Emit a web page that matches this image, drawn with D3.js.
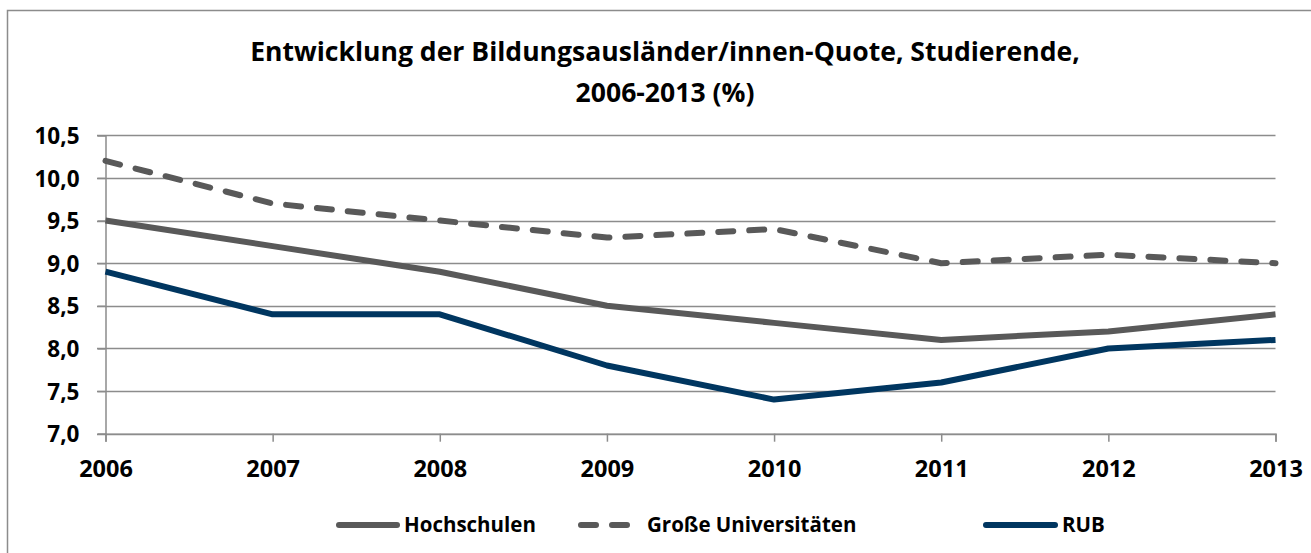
<!DOCTYPE html>
<html><head><meta charset="utf-8">
<script src="https://cdn.jsdelivr.net/npm/d3@7"></script>
<style>body{margin:0;background:#fff}svg{display:block}text{font-family:"Open Sans",Lato,sans-serif;font-weight:bold;fill:#000}</style>
</head><body><svg id="c" width="1311" height="553"></svg>
<script>
const years = [2006, 2007, 2008, 2009, 2010, 2011, 2012, 2013];
const hochschulen = [9.5, 9.2, 8.9, 8.5, 8.3, 8.1, 8.2, 8.4];
const grosseUnis = [10.2, 9.7, 9.5, 9.3, 9.4, 9.0, 9.1, 9.0];
const rub = [8.9, 8.4, 8.4, 7.8, 7.4, 7.6, 8.0, 8.1];
const yTicks = [7.0, 7.5, 8.0, 8.5, 9.0, 9.5, 10.0, 10.5];
const seriesNames = ["Hochschulen", "Große Universitäten", "RUB"];
const titleLines = ["Entwicklung der Bildungsausländer/innen-Quote, Studierende,", "2006-2013 (%)"];

const svg = d3.select("#c");
svg.append("rect").attr("x",7.5).attr("y",10.5).attr("width",1320).attr("height",560)
  .attr("fill","none").attr("stroke","#8c8c8c").attr("stroke-width",1.5);

const x = d3.scalePoint().domain(years).range([105.5, 1275.5]);
const y = d3.scaleLinear().domain([7, 10.5]).range([433.7, 135.3]);

// title: font size chosen so the first line spans the same width as in the reference
const tg = svg.append("g");
const t1 = tg.append("text").style("font-size","100px").text(titleLines[0]);
const titleSize = 100 * 830 / t1.node().getComputedTextLength();
tg.selectAll("text").remove();
tg.selectAll("text").data(titleLines).join("text")
  .attr("x",665).attr("y",(d,i)=>61+i*41).attr("text-anchor","middle")
  .style("font-size",titleSize+"px").text(d=>d);

// grid
svg.append("g").selectAll("line").data(yTicks).join("line")
  .attr("x1",97).attr("x2",1275.5).attr("y1",d=>Math.round(y(d))+0.5).attr("y2",d=>Math.round(y(d))+0.5)
  .attr("stroke","#8c8c8c").attr("stroke-width",1.5);

// y axis
const ya = svg.append("g").attr("transform","translate(105.5,0)")
  .call(d3.axisLeft(y).tickValues(yTicks).tickSize(8).tickPadding(18).tickFormat(d=>d3.format(".1f")(d).replace(".",",")));
ya.select(".domain").attr("stroke","#8c8c8c").attr("stroke-width",1.5);
ya.selectAll(".tick line").attr("stroke","#8c8c8c").attr("stroke-width",1.5);
ya.selectAll(".tick text").style("font-size","22.5px").attr("fill","#000").attr("dy","0.36em");

// x axis
const xa = svg.append("g").attr("transform",`translate(0,${y(7)})`)
  .call(d3.axisBottom(x).tickSize(8).tickPadding(16).tickFormat(d=>d));
xa.select(".domain").attr("stroke","#8c8c8c").attr("stroke-width",1.5);
xa.selectAll(".tick line").attr("stroke","#8c8c8c").attr("stroke-width",1.5);
xa.selectAll(".tick text").style("font-size","23.5px").attr("fill","#000").attr("dy",null).attr("y",43);

const line = d3.line().x((d,i)=>x(years[i])).y(d=>y(d));
const styles = [
  {data:hochschulen, color:"#595959", dash:null},
  {data:grosseUnis, color:"#595959", dash:"15,16"},
  {data:rub, color:"#003660", dash:null}
];
svg.append("g").selectAll("path").data(styles).join("path")
  .attr("d",d=>line(d.data)).attr("fill","none").attr("stroke",d=>d.color)
  .attr("stroke-width",6).attr("stroke-linejoin","round")
  .attr("stroke-linecap",d=>d.dash?"round":"butt")
  .attr("stroke-dasharray",d=>d.dash);

// legend
const leg = [{x1:339,x2:397,tx:404},{x1:581,x2:643,tx:647},{x1:986,x2:1055,tx:1062}];
const lg = svg.append("g");
leg.forEach((l,i)=>{
  lg.append("line").attr("x1",l.x1).attr("x2",l.x2).attr("y1",525).attr("y2",525)
    .attr("stroke",styles[i].color).attr("stroke-width",6).attr("stroke-linecap","round")
    .attr("stroke-dasharray",styles[i].dash?"15,16":null);
  lg.append("text").attr("x",l.tx).attr("y",532).style("font-size","20.5px").text(seriesNames[i]);
});
</script></body></html>
